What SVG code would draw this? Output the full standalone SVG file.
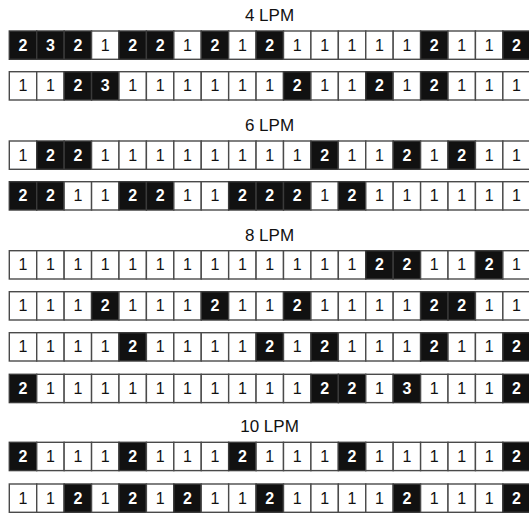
<svg xmlns="http://www.w3.org/2000/svg" width="529" height="513" viewBox="0 0 529 513">
<style>
rect.w{fill:#ffffff;stroke:#4a4a4a;stroke-width:1.4}
rect.b{fill:#111111;stroke:#3a3a3a;stroke-width:1.4}
text{font-family:"Liberation Sans",Arial,sans-serif;font-size:16px;text-anchor:middle}
text.tw{fill:#111111}
text.tb{fill:#ffffff;font-weight:bold}
text.title{font-size:17px;fill:#111111}
</style>
<rect width="529" height="513" fill="#ffffff"/>
<g id="title-4lpm"><text class="title" x="269.5" y="20.7">4 LPM</text></g>
<g id="title-6lpm"><text class="title" x="269.5" y="130.7">6 LPM</text></g>
<g id="title-8lpm"><text class="title" x="269.5" y="240.7">8 LPM</text></g>
<g id="title-10lpm"><text class="title" x="269.5" y="432.3">10 LPM</text></g>

<g id="row1" transform="translate(0,31)">
<rect class="b" x="9.3" width="27.42" height="28.3"/><text class="tb" x="23.01" y="19.8">2</text>
<rect class="b" x="36.72" width="27.42" height="28.3"/><text class="tb" x="50.43" y="19.8">3</text>
<rect class="b" x="64.14" width="27.42" height="28.3"/><text class="tb" x="77.85" y="19.8">2</text>
<rect class="w" x="91.56" width="27.42" height="28.3"/><text class="tw" x="105.27" y="19.8">1</text>
<rect class="b" x="118.98" width="27.42" height="28.3"/><text class="tb" x="132.69" y="19.8">2</text>
<rect class="b" x="146.4" width="27.42" height="28.3"/><text class="tb" x="160.11" y="19.8">2</text>
<rect class="w" x="173.82" width="27.42" height="28.3"/><text class="tw" x="187.53" y="19.8">1</text>
<rect class="b" x="201.24" width="27.42" height="28.3"/><text class="tb" x="214.95" y="19.8">2</text>
<rect class="w" x="228.66" width="27.42" height="28.3"/><text class="tw" x="242.37" y="19.8">1</text>
<rect class="b" x="256.08" width="27.42" height="28.3"/><text class="tb" x="269.79" y="19.8">2</text>
<rect class="w" x="283.5" width="27.42" height="28.3"/><text class="tw" x="297.21" y="19.8">1</text>
<rect class="w" x="310.92" width="27.42" height="28.3"/><text class="tw" x="324.63" y="19.8">1</text>
<rect class="w" x="338.34" width="27.42" height="28.3"/><text class="tw" x="352.05" y="19.8">1</text>
<rect class="w" x="365.76" width="27.42" height="28.3"/><text class="tw" x="379.47" y="19.8">1</text>
<rect class="w" x="393.18" width="27.42" height="28.3"/><text class="tw" x="406.89" y="19.8">1</text>
<rect class="b" x="420.6" width="27.42" height="28.3"/><text class="tb" x="434.31" y="19.8">2</text>
<rect class="w" x="448.02" width="27.42" height="28.3"/><text class="tw" x="461.73" y="19.8">1</text>
<rect class="w" x="475.44" width="27.42" height="28.3"/><text class="tw" x="489.15" y="19.8">1</text>
<rect class="b" x="502.86" width="27.42" height="28.3"/><text class="tb" x="516.57" y="19.8">2</text>
</g>

<g id="row2" transform="translate(0,71.7)">
<rect class="w" x="9.3" width="27.42" height="28.3"/><text class="tw" x="23.01" y="19.8">1</text>
<rect class="w" x="36.72" width="27.42" height="28.3"/><text class="tw" x="50.43" y="19.8">1</text>
<rect class="b" x="64.14" width="27.42" height="28.3"/><text class="tb" x="77.85" y="19.8">2</text>
<rect class="b" x="91.56" width="27.42" height="28.3"/><text class="tb" x="105.27" y="19.8">3</text>
<rect class="w" x="118.98" width="27.42" height="28.3"/><text class="tw" x="132.69" y="19.8">1</text>
<rect class="w" x="146.4" width="27.42" height="28.3"/><text class="tw" x="160.11" y="19.8">1</text>
<rect class="w" x="173.82" width="27.42" height="28.3"/><text class="tw" x="187.53" y="19.8">1</text>
<rect class="w" x="201.24" width="27.42" height="28.3"/><text class="tw" x="214.95" y="19.8">1</text>
<rect class="w" x="228.66" width="27.42" height="28.3"/><text class="tw" x="242.37" y="19.8">1</text>
<rect class="w" x="256.08" width="27.42" height="28.3"/><text class="tw" x="269.79" y="19.8">1</text>
<rect class="b" x="283.5" width="27.42" height="28.3"/><text class="tb" x="297.21" y="19.8">2</text>
<rect class="w" x="310.92" width="27.42" height="28.3"/><text class="tw" x="324.63" y="19.8">1</text>
<rect class="w" x="338.34" width="27.42" height="28.3"/><text class="tw" x="352.05" y="19.8">1</text>
<rect class="b" x="365.76" width="27.42" height="28.3"/><text class="tb" x="379.47" y="19.8">2</text>
<rect class="w" x="393.18" width="27.42" height="28.3"/><text class="tw" x="406.89" y="19.8">1</text>
<rect class="b" x="420.6" width="27.42" height="28.3"/><text class="tb" x="434.31" y="19.8">2</text>
<rect class="w" x="448.02" width="27.42" height="28.3"/><text class="tw" x="461.73" y="19.8">1</text>
<rect class="w" x="475.44" width="27.42" height="28.3"/><text class="tw" x="489.15" y="19.8">1</text>
<rect class="w" x="502.86" width="27.42" height="28.3"/><text class="tw" x="516.57" y="19.8">1</text>
</g>

<g id="row3" transform="translate(0,141)">
<rect class="w" x="9.3" width="27.42" height="28.3"/><text class="tw" x="23.01" y="19.8">1</text>
<rect class="b" x="36.72" width="27.42" height="28.3"/><text class="tb" x="50.43" y="19.8">2</text>
<rect class="b" x="64.14" width="27.42" height="28.3"/><text class="tb" x="77.85" y="19.8">2</text>
<rect class="w" x="91.56" width="27.42" height="28.3"/><text class="tw" x="105.27" y="19.8">1</text>
<rect class="w" x="118.98" width="27.42" height="28.3"/><text class="tw" x="132.69" y="19.8">1</text>
<rect class="w" x="146.4" width="27.42" height="28.3"/><text class="tw" x="160.11" y="19.8">1</text>
<rect class="w" x="173.82" width="27.42" height="28.3"/><text class="tw" x="187.53" y="19.8">1</text>
<rect class="w" x="201.24" width="27.42" height="28.3"/><text class="tw" x="214.95" y="19.8">1</text>
<rect class="w" x="228.66" width="27.42" height="28.3"/><text class="tw" x="242.37" y="19.8">1</text>
<rect class="w" x="256.08" width="27.42" height="28.3"/><text class="tw" x="269.79" y="19.8">1</text>
<rect class="w" x="283.5" width="27.42" height="28.3"/><text class="tw" x="297.21" y="19.8">1</text>
<rect class="b" x="310.92" width="27.42" height="28.3"/><text class="tb" x="324.63" y="19.8">2</text>
<rect class="w" x="338.34" width="27.42" height="28.3"/><text class="tw" x="352.05" y="19.8">1</text>
<rect class="w" x="365.76" width="27.42" height="28.3"/><text class="tw" x="379.47" y="19.8">1</text>
<rect class="b" x="393.18" width="27.42" height="28.3"/><text class="tb" x="406.89" y="19.8">2</text>
<rect class="w" x="420.6" width="27.42" height="28.3"/><text class="tw" x="434.31" y="19.8">1</text>
<rect class="b" x="448.02" width="27.42" height="28.3"/><text class="tb" x="461.73" y="19.8">2</text>
<rect class="w" x="475.44" width="27.42" height="28.3"/><text class="tw" x="489.15" y="19.8">1</text>
<rect class="w" x="502.86" width="27.42" height="28.3"/><text class="tw" x="516.57" y="19.8">1</text>
</g>

<g id="row4" transform="translate(0,181.7)">
<rect class="b" x="9.3" width="27.42" height="28.3"/><text class="tb" x="23.01" y="19.8">2</text>
<rect class="b" x="36.72" width="27.42" height="28.3"/><text class="tb" x="50.43" y="19.8">2</text>
<rect class="w" x="64.14" width="27.42" height="28.3"/><text class="tw" x="77.85" y="19.8">1</text>
<rect class="w" x="91.56" width="27.42" height="28.3"/><text class="tw" x="105.27" y="19.8">1</text>
<rect class="b" x="118.98" width="27.42" height="28.3"/><text class="tb" x="132.69" y="19.8">2</text>
<rect class="b" x="146.4" width="27.42" height="28.3"/><text class="tb" x="160.11" y="19.8">2</text>
<rect class="w" x="173.82" width="27.42" height="28.3"/><text class="tw" x="187.53" y="19.8">1</text>
<rect class="w" x="201.24" width="27.42" height="28.3"/><text class="tw" x="214.95" y="19.8">1</text>
<rect class="b" x="228.66" width="27.42" height="28.3"/><text class="tb" x="242.37" y="19.8">2</text>
<rect class="b" x="256.08" width="27.42" height="28.3"/><text class="tb" x="269.79" y="19.8">2</text>
<rect class="b" x="283.5" width="27.42" height="28.3"/><text class="tb" x="297.21" y="19.8">2</text>
<rect class="w" x="310.92" width="27.42" height="28.3"/><text class="tw" x="324.63" y="19.8">1</text>
<rect class="b" x="338.34" width="27.42" height="28.3"/><text class="tb" x="352.05" y="19.8">2</text>
<rect class="w" x="365.76" width="27.42" height="28.3"/><text class="tw" x="379.47" y="19.8">1</text>
<rect class="w" x="393.18" width="27.42" height="28.3"/><text class="tw" x="406.89" y="19.8">1</text>
<rect class="w" x="420.6" width="27.42" height="28.3"/><text class="tw" x="434.31" y="19.8">1</text>
<rect class="w" x="448.02" width="27.42" height="28.3"/><text class="tw" x="461.73" y="19.8">1</text>
<rect class="w" x="475.44" width="27.42" height="28.3"/><text class="tw" x="489.15" y="19.8">1</text>
<rect class="w" x="502.86" width="27.42" height="28.3"/><text class="tw" x="516.57" y="19.8">1</text>
</g>

<g id="row5" transform="translate(0,250.7)">
<rect class="w" x="9.3" width="27.42" height="28.3"/><text class="tw" x="23.01" y="19.8">1</text>
<rect class="w" x="36.72" width="27.42" height="28.3"/><text class="tw" x="50.43" y="19.8">1</text>
<rect class="w" x="64.14" width="27.42" height="28.3"/><text class="tw" x="77.85" y="19.8">1</text>
<rect class="w" x="91.56" width="27.42" height="28.3"/><text class="tw" x="105.27" y="19.8">1</text>
<rect class="w" x="118.98" width="27.42" height="28.3"/><text class="tw" x="132.69" y="19.8">1</text>
<rect class="w" x="146.4" width="27.42" height="28.3"/><text class="tw" x="160.11" y="19.8">1</text>
<rect class="w" x="173.82" width="27.42" height="28.3"/><text class="tw" x="187.53" y="19.8">1</text>
<rect class="w" x="201.24" width="27.42" height="28.3"/><text class="tw" x="214.95" y="19.8">1</text>
<rect class="w" x="228.66" width="27.42" height="28.3"/><text class="tw" x="242.37" y="19.8">1</text>
<rect class="w" x="256.08" width="27.42" height="28.3"/><text class="tw" x="269.79" y="19.8">1</text>
<rect class="w" x="283.5" width="27.42" height="28.3"/><text class="tw" x="297.21" y="19.8">1</text>
<rect class="w" x="310.92" width="27.42" height="28.3"/><text class="tw" x="324.63" y="19.8">1</text>
<rect class="w" x="338.34" width="27.42" height="28.3"/><text class="tw" x="352.05" y="19.8">1</text>
<rect class="b" x="365.76" width="27.42" height="28.3"/><text class="tb" x="379.47" y="19.8">2</text>
<rect class="b" x="393.18" width="27.42" height="28.3"/><text class="tb" x="406.89" y="19.8">2</text>
<rect class="w" x="420.6" width="27.42" height="28.3"/><text class="tw" x="434.31" y="19.8">1</text>
<rect class="w" x="448.02" width="27.42" height="28.3"/><text class="tw" x="461.73" y="19.8">1</text>
<rect class="b" x="475.44" width="27.42" height="28.3"/><text class="tb" x="489.15" y="19.8">2</text>
<rect class="w" x="502.86" width="27.42" height="28.3"/><text class="tw" x="516.57" y="19.8">1</text>
</g>

<g id="row6" transform="translate(0,291.7)">
<rect class="w" x="9.3" width="27.42" height="28.3"/><text class="tw" x="23.01" y="19.8">1</text>
<rect class="w" x="36.72" width="27.42" height="28.3"/><text class="tw" x="50.43" y="19.8">1</text>
<rect class="w" x="64.14" width="27.42" height="28.3"/><text class="tw" x="77.85" y="19.8">1</text>
<rect class="b" x="91.56" width="27.42" height="28.3"/><text class="tb" x="105.27" y="19.8">2</text>
<rect class="w" x="118.98" width="27.42" height="28.3"/><text class="tw" x="132.69" y="19.8">1</text>
<rect class="w" x="146.4" width="27.42" height="28.3"/><text class="tw" x="160.11" y="19.8">1</text>
<rect class="w" x="173.82" width="27.42" height="28.3"/><text class="tw" x="187.53" y="19.8">1</text>
<rect class="b" x="201.24" width="27.42" height="28.3"/><text class="tb" x="214.95" y="19.8">2</text>
<rect class="w" x="228.66" width="27.42" height="28.3"/><text class="tw" x="242.37" y="19.8">1</text>
<rect class="w" x="256.08" width="27.42" height="28.3"/><text class="tw" x="269.79" y="19.8">1</text>
<rect class="b" x="283.5" width="27.42" height="28.3"/><text class="tb" x="297.21" y="19.8">2</text>
<rect class="w" x="310.92" width="27.42" height="28.3"/><text class="tw" x="324.63" y="19.8">1</text>
<rect class="w" x="338.34" width="27.42" height="28.3"/><text class="tw" x="352.05" y="19.8">1</text>
<rect class="w" x="365.76" width="27.42" height="28.3"/><text class="tw" x="379.47" y="19.8">1</text>
<rect class="w" x="393.18" width="27.42" height="28.3"/><text class="tw" x="406.89" y="19.8">1</text>
<rect class="b" x="420.6" width="27.42" height="28.3"/><text class="tb" x="434.31" y="19.8">2</text>
<rect class="b" x="448.02" width="27.42" height="28.3"/><text class="tb" x="461.73" y="19.8">2</text>
<rect class="w" x="475.44" width="27.42" height="28.3"/><text class="tw" x="489.15" y="19.8">1</text>
<rect class="w" x="502.86" width="27.42" height="28.3"/><text class="tw" x="516.57" y="19.8">1</text>
</g>

<g id="row7" transform="translate(0,332.7)">
<rect class="w" x="9.3" width="27.42" height="28.3"/><text class="tw" x="23.01" y="19.8">1</text>
<rect class="w" x="36.72" width="27.42" height="28.3"/><text class="tw" x="50.43" y="19.8">1</text>
<rect class="w" x="64.14" width="27.42" height="28.3"/><text class="tw" x="77.85" y="19.8">1</text>
<rect class="w" x="91.56" width="27.42" height="28.3"/><text class="tw" x="105.27" y="19.8">1</text>
<rect class="b" x="118.98" width="27.42" height="28.3"/><text class="tb" x="132.69" y="19.8">2</text>
<rect class="w" x="146.4" width="27.42" height="28.3"/><text class="tw" x="160.11" y="19.8">1</text>
<rect class="w" x="173.82" width="27.42" height="28.3"/><text class="tw" x="187.53" y="19.8">1</text>
<rect class="w" x="201.24" width="27.42" height="28.3"/><text class="tw" x="214.95" y="19.8">1</text>
<rect class="w" x="228.66" width="27.42" height="28.3"/><text class="tw" x="242.37" y="19.8">1</text>
<rect class="b" x="256.08" width="27.42" height="28.3"/><text class="tb" x="269.79" y="19.8">2</text>
<rect class="w" x="283.5" width="27.42" height="28.3"/><text class="tw" x="297.21" y="19.8">1</text>
<rect class="b" x="310.92" width="27.42" height="28.3"/><text class="tb" x="324.63" y="19.8">2</text>
<rect class="w" x="338.34" width="27.42" height="28.3"/><text class="tw" x="352.05" y="19.8">1</text>
<rect class="w" x="365.76" width="27.42" height="28.3"/><text class="tw" x="379.47" y="19.8">1</text>
<rect class="w" x="393.18" width="27.42" height="28.3"/><text class="tw" x="406.89" y="19.8">1</text>
<rect class="b" x="420.6" width="27.42" height="28.3"/><text class="tb" x="434.31" y="19.8">2</text>
<rect class="w" x="448.02" width="27.42" height="28.3"/><text class="tw" x="461.73" y="19.8">1</text>
<rect class="w" x="475.44" width="27.42" height="28.3"/><text class="tw" x="489.15" y="19.8">1</text>
<rect class="b" x="502.86" width="27.42" height="28.3"/><text class="tb" x="516.57" y="19.8">2</text>
</g>

<g id="row8" transform="translate(0,374.3)">
<rect class="b" x="9.3" width="27.42" height="28.3"/><text class="tb" x="23.01" y="19.8">2</text>
<rect class="w" x="36.72" width="27.42" height="28.3"/><text class="tw" x="50.43" y="19.8">1</text>
<rect class="w" x="64.14" width="27.42" height="28.3"/><text class="tw" x="77.85" y="19.8">1</text>
<rect class="w" x="91.56" width="27.42" height="28.3"/><text class="tw" x="105.27" y="19.8">1</text>
<rect class="w" x="118.98" width="27.42" height="28.3"/><text class="tw" x="132.69" y="19.8">1</text>
<rect class="w" x="146.4" width="27.42" height="28.3"/><text class="tw" x="160.11" y="19.8">1</text>
<rect class="w" x="173.82" width="27.42" height="28.3"/><text class="tw" x="187.53" y="19.8">1</text>
<rect class="w" x="201.24" width="27.42" height="28.3"/><text class="tw" x="214.95" y="19.8">1</text>
<rect class="w" x="228.66" width="27.42" height="28.3"/><text class="tw" x="242.37" y="19.8">1</text>
<rect class="w" x="256.08" width="27.42" height="28.3"/><text class="tw" x="269.79" y="19.8">1</text>
<rect class="w" x="283.5" width="27.42" height="28.3"/><text class="tw" x="297.21" y="19.8">1</text>
<rect class="b" x="310.92" width="27.42" height="28.3"/><text class="tb" x="324.63" y="19.8">2</text>
<rect class="b" x="338.34" width="27.42" height="28.3"/><text class="tb" x="352.05" y="19.8">2</text>
<rect class="w" x="365.76" width="27.42" height="28.3"/><text class="tw" x="379.47" y="19.8">1</text>
<rect class="b" x="393.18" width="27.42" height="28.3"/><text class="tb" x="406.89" y="19.8">3</text>
<rect class="w" x="420.6" width="27.42" height="28.3"/><text class="tw" x="434.31" y="19.8">1</text>
<rect class="w" x="448.02" width="27.42" height="28.3"/><text class="tw" x="461.73" y="19.8">1</text>
<rect class="w" x="475.44" width="27.42" height="28.3"/><text class="tw" x="489.15" y="19.8">1</text>
<rect class="b" x="502.86" width="27.42" height="28.3"/><text class="tb" x="516.57" y="19.8">2</text>
</g>

<g id="row9" transform="translate(0,442.3)">
<rect class="b" x="9.3" width="27.42" height="28.3"/><text class="tb" x="23.01" y="19.8">2</text>
<rect class="w" x="36.72" width="27.42" height="28.3"/><text class="tw" x="50.43" y="19.8">1</text>
<rect class="w" x="64.14" width="27.42" height="28.3"/><text class="tw" x="77.85" y="19.8">1</text>
<rect class="w" x="91.56" width="27.42" height="28.3"/><text class="tw" x="105.27" y="19.8">1</text>
<rect class="b" x="118.98" width="27.42" height="28.3"/><text class="tb" x="132.69" y="19.8">2</text>
<rect class="w" x="146.4" width="27.42" height="28.3"/><text class="tw" x="160.11" y="19.8">1</text>
<rect class="w" x="173.82" width="27.42" height="28.3"/><text class="tw" x="187.53" y="19.8">1</text>
<rect class="w" x="201.24" width="27.42" height="28.3"/><text class="tw" x="214.95" y="19.8">1</text>
<rect class="b" x="228.66" width="27.42" height="28.3"/><text class="tb" x="242.37" y="19.8">2</text>
<rect class="w" x="256.08" width="27.42" height="28.3"/><text class="tw" x="269.79" y="19.8">1</text>
<rect class="w" x="283.5" width="27.42" height="28.3"/><text class="tw" x="297.21" y="19.8">1</text>
<rect class="w" x="310.92" width="27.42" height="28.3"/><text class="tw" x="324.63" y="19.8">1</text>
<rect class="b" x="338.34" width="27.42" height="28.3"/><text class="tb" x="352.05" y="19.8">2</text>
<rect class="w" x="365.76" width="27.42" height="28.3"/><text class="tw" x="379.47" y="19.8">1</text>
<rect class="w" x="393.18" width="27.42" height="28.3"/><text class="tw" x="406.89" y="19.8">1</text>
<rect class="w" x="420.6" width="27.42" height="28.3"/><text class="tw" x="434.31" y="19.8">1</text>
<rect class="w" x="448.02" width="27.42" height="28.3"/><text class="tw" x="461.73" y="19.8">1</text>
<rect class="w" x="475.44" width="27.42" height="28.3"/><text class="tw" x="489.15" y="19.8">1</text>
<rect class="b" x="502.86" width="27.42" height="28.3"/><text class="tb" x="516.57" y="19.8">2</text>
</g>

<g id="row10" transform="translate(0,484)">
<rect class="w" x="9.3" width="27.42" height="28.3"/><text class="tw" x="23.01" y="19.8">1</text>
<rect class="w" x="36.72" width="27.42" height="28.3"/><text class="tw" x="50.43" y="19.8">1</text>
<rect class="b" x="64.14" width="27.42" height="28.3"/><text class="tb" x="77.85" y="19.8">2</text>
<rect class="w" x="91.56" width="27.42" height="28.3"/><text class="tw" x="105.27" y="19.8">1</text>
<rect class="b" x="118.98" width="27.42" height="28.3"/><text class="tb" x="132.69" y="19.8">2</text>
<rect class="w" x="146.4" width="27.42" height="28.3"/><text class="tw" x="160.11" y="19.8">1</text>
<rect class="b" x="173.82" width="27.42" height="28.3"/><text class="tb" x="187.53" y="19.8">2</text>
<rect class="w" x="201.24" width="27.42" height="28.3"/><text class="tw" x="214.95" y="19.8">1</text>
<rect class="w" x="228.66" width="27.42" height="28.3"/><text class="tw" x="242.37" y="19.8">1</text>
<rect class="b" x="256.08" width="27.42" height="28.3"/><text class="tb" x="269.79" y="19.8">2</text>
<rect class="w" x="283.5" width="27.42" height="28.3"/><text class="tw" x="297.21" y="19.8">1</text>
<rect class="w" x="310.92" width="27.42" height="28.3"/><text class="tw" x="324.63" y="19.8">1</text>
<rect class="w" x="338.34" width="27.42" height="28.3"/><text class="tw" x="352.05" y="19.8">1</text>
<rect class="w" x="365.76" width="27.42" height="28.3"/><text class="tw" x="379.47" y="19.8">1</text>
<rect class="b" x="393.18" width="27.42" height="28.3"/><text class="tb" x="406.89" y="19.8">2</text>
<rect class="w" x="420.6" width="27.42" height="28.3"/><text class="tw" x="434.31" y="19.8">1</text>
<rect class="w" x="448.02" width="27.42" height="28.3"/><text class="tw" x="461.73" y="19.8">1</text>
<rect class="w" x="475.44" width="27.42" height="28.3"/><text class="tw" x="489.15" y="19.8">1</text>
<rect class="b" x="502.86" width="27.42" height="28.3"/><text class="tb" x="516.57" y="19.8">2</text>
</g>
</svg>
